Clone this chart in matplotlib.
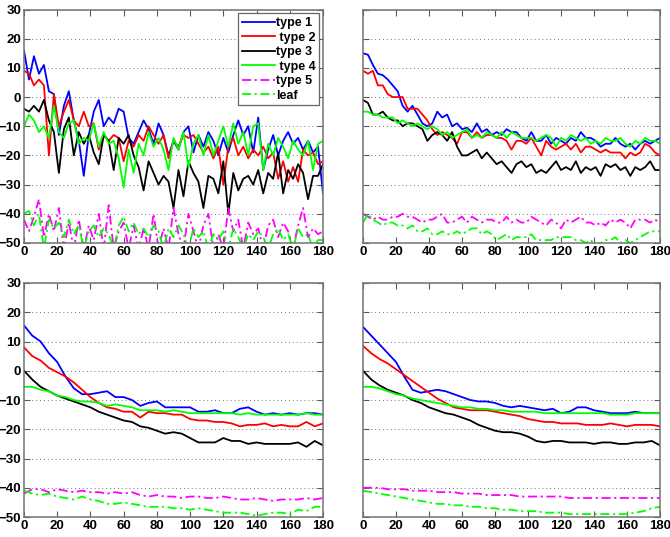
import numpy as np
import matplotlib
matplotlib.use("Agg")
import matplotlib.pyplot as plt

plt.rcParams['font.family'] = ['Liberation Sans', 'DejaVu Sans']
plt.rcParams['font.weight'] = 'bold'

labels = ['type 1', ' type 2', 'type 3', ' type 4', 'type 5', 'leaf']
colors = ['#0000ff', '#ff0000', '#000000', '#00ff00', '#ff00ff', '#00ff00']

# angle grids
x3 = np.arange(0, 181, 3)
x5 = np.arange(0, 181, 5)

# ---- top left (raw, noisy) ----
tl_t1 = [16, 6, 14, 8, 11, 2, 1, -13, -3, 2,
         -8, -15, -27, -13, -5, -1, -10, -7, -9, -4,
         -5, -14, -16, -12, -8, -11, -16, -9, -13, -20,
         -15, -18, -12, -10, -19, -13, -17, -12, -15, -20,
         -14, -19, -13, -8, -13, -10, -19, -7, -25, -18,
         -13, -20, -15, -12, -16, -14, -18, -15, -19, -17,
         -33]
tl_t2 = [9, 8, 4, 6, 4, -20, 1, -10, -5, -1,
         -8, -10, -5, -10, -9, -18, -13, -15, -13, -14,
         -22, -15, -17, -13, -15, -10, -13, -16, -13, -21,
         -15, -17, -13, -14, -13, -16, -19, -17, -21, -17,
         -30, -17, -14, -20, -17, -21, -18, -20, -17, -21,
         -19, -28, -22, -29, -24, -29, -18, -20, -19, -23,
         -22]
tl_t3 = [-4, -5, -3, -5, -1, -8, -12, -26, -11, -7,
         -20, -12, -16, -13, -19, -23, -13, -15, -25, -14,
         -16, -13, -20, -24, -32, -22, -26, -30, -27, -29,
         -38, -25, -34, -22, -26, -29, -38, -27, -28, -33,
         -22, -40, -26, -32, -28, -27, -30, -25, -33, -26,
         -28, -19, -33, -25, -28, -23, -26, -35, -27, -27,
         -23]
tl_t4 = [-10, -6, -8, -12, -10, -14, -3, -12, -14, -9,
         -8, -16, -14, -15, -9, -17, -12, -16, -15, -21,
         -31, -18, -26, -16, -20, -12, -17, -14, -18, -25,
         -14, -18, -12, -24, -16, -13, -20, -13, -20, -15,
         -10, -17, -9, -16, -12, -20, -10, -9, -25, -16,
         -20, -14, -17, -21, -15, -18, -20, -15, -25, -16,
         -15]
tl_t5 = [-42, -46, -41, -35, -48, -40, -46, -38, -52, -43,
         -52, -42, -52, -44, -49, -40, -52, -37, -52, -46,
         -43, -52, -44, -52, -45, -52, -40, -52, -45, -52,
         -38, -47, -52, -40, -46, -52, -44, -40, -52, -47,
         -52, -38, -46, -42, -52, -43, -47, -45, -52, -44,
         -42, -48, -43, -46, -52, -44, -38, -48, -45, -47,
         -46]
tl_leaf = [-40, -39, -44, -40, -52, -42, -45, -43, -48, -42,
           -47, -44, -52, -46, -44, -48, -45, -47, -52, -44,
           -41, -46, -43, -47, -45, -48, -44, -46, -52, -45,
           -48, -44, -47, -52, -45, -48, -46, -52, -47, -49,
           -46, -52, -45, -48, -52, -47, -49, -46, -48, -52,
           -47, -45, -49, -47, -52, -45, -48, -47, -52, -49,
           -49]

# ---- top right ----
tr_t1 = [15, 14.5, 11, 8, 7.5, 6, 4, 2, -3, -5,
         -3, -6, -9, -10, -9, -5, -7, -6, -10, -9,
         -11, -10.5, -12, -9, -12, -11, -13, -12, -13, -11,
         -12, -12, -14, -15, -12, -15, -15, -13, -16, -14,
         -15, -16, -14, -15, -12, -14, -14, -15, -17, -16,
         -16, -14, -16, -17, -16, -18, -16, -15, -16, -15,
         -14]
tr_t2 = [9, 8, 9, 4, 4, 1, 0, 0, 0, -4,
         -4, -4, -6, -8, -11, -13, -12, -13, -14, -16,
         -12, -12, -14, -12, -14, -13, -13, -14, -14, -15,
         -18, -15, -15, -16, -14, -17, -20, -15, -17, -18,
         -17, -16, -18, -16, -19, -17, -17, -18, -19, -18,
         -19, -19, -19, -21, -19, -20, -19, -16, -17, -19,
         -20]
tr_t3 = [-1, -2, -6, -6, -5, -7, -8, -8, -10, -9,
         -9, -10, -11, -15, -13, -12, -13, -15, -12, -17,
         -20, -20, -19, -18, -21, -19, -21, -23, -22, -24,
         -26, -23, -22, -24, -23, -26, -25, -26, -24, -22,
         -25, -24, -25, -22, -26, -24, -25, -24, -27, -23,
         -24, -23, -25, -24, -27, -24, -25, -24, -22, -25,
         -25]
tr_t4 = [-5, -5, -6, -6, -7, -7, -7, -9, -8, -9,
         -10, -9, -10, -11, -10, -11, -13, -12, -14, -13,
         -12, -11, -14, -13, -14, -12, -13, -14, -12, -14,
         -12, -13, -14, -14, -14, -15, -14, -13, -14, -17,
         -14, -15, -13, -14, -15, -14, -16, -15, -16, -14,
         -15, -15, -14, -16, -17, -15, -16, -14, -15, -15,
         -16]
tr_t5 = [-40, -41, -42, -41, -42, -42, -41, -41, -40, -41,
         -41, -42, -43, -42, -42, -41, -40, -43, -43, -42,
         -41, -43, -41, -42, -43, -42, -42, -43, -43, -41,
         -43, -42, -43, -43, -41, -42, -43, -44, -42, -43,
         -45, -42, -43, -42, -41, -43, -43, -44, -43, -44,
         -42, -43, -42, -43, -45, -42, -42, -42, -43, -42,
         -43]
tr_leaf = [-43, -40, -42, -43, -44, -43, -43, -44, -44, -45,
           -44, -46, -46, -45, -47, -47, -46, -47, -47, -46,
           -47, -46, -45, -45, -47, -46, -47, -49, -48, -47,
           -49, -48, -48, -48, -47, -49, -49, -49, -49, -48,
           -48, -48, -48, -49, -49, -50, -49, -51, -50, -49,
           -49, -48, -50, -49, -50, -49, -48, -47, -46, -46,
           -46]

# ---- bottom left ----
bl_t1 = [15.5, 12, 10, 6, 3, -2, -6, -8, -8, -7.5,
         -7, -9, -9, -10, -12, -11, -10.5, -12.5, -12.5, -12.5,
         -12.5, -14, -14, -13.5, -14.5, -14.5, -13, -12.5, -14, -15,
         -14.5, -15, -14.5, -15, -14.5, -14.5, -15]
bl_t2 = [8, 5, 3.5, 1, -0.5, -2, -4, -6.5, -9, -11,
         -12.5, -13, -14, -14, -16, -14, -14.5, -14.5, -15, -15,
         -16.5, -17, -17, -17.5, -17.5, -18, -19, -18.5, -18.5, -18,
         -19, -18.5, -19, -19, -17.5, -19, -18]
bl_t3 = [0, -3, -5.5, -7, -8.5, -9.5, -10.5, -11.5, -12.5, -14,
         -15, -16, -17, -17.5, -19, -19.5, -20.5, -21.5, -21, -21.5,
         -23, -24.5, -24.5, -24.5, -23, -24, -24, -25, -24.5, -25,
         -25, -25, -25, -24.5, -26, -24, -25.5]
bl_t4 = [-5.5, -5.5, -6.5, -7, -8.5, -9, -10, -10.5, -10.5, -11,
         -12, -11.5, -12, -12.5, -13.5, -13.5, -13.5, -14, -13.5, -14,
         -14.5, -14.5, -14.5, -14.5, -14.5, -14.5, -15, -14.5, -15, -15,
         -15, -15, -15, -15, -14.5, -15, -15]
bl_t5 = [-42, -40.5, -40.5, -41.5, -40.5, -41, -41.5, -41, -41.5, -41.5,
         -42, -41.5, -42, -41.5, -42.5, -43, -42.5, -43, -43, -43.5,
         -43, -43, -43.5, -43.5, -43, -43.5, -44, -44, -43.5, -44,
         -44.5, -44, -44, -44, -43.5, -44, -43.5]
bl_leaf = [-41, -42, -42.5, -42, -43, -43.5, -44, -43, -44, -44.5,
           -45.5, -45.5, -45, -45.5, -46, -46.5, -46.5, -46.5, -47, -47,
           -47.5, -47, -47.5, -48, -48.5, -48.5, -48.5, -49, -49.5, -49,
           -48.5, -48.5, -49, -47.5, -48, -46.5, -46.5]

# ---- bottom right (smoothed) ----
br_t1 = [15, 12, 9, 6, 3, -2, -6.5, -7.5, -7, -6.5,
         -7, -8, -9, -10, -10.5, -10.5, -11, -12, -12.5, -12,
         -12.5, -13, -13.5, -13, -14.5, -14, -12.5, -12.5, -13.5, -14,
         -14.5, -14.5, -14.5, -14, -14.5, -14.5, -14.5]
br_t2 = [8.5, 6, 4, 2.5, 0.5, -1.5, -3.5, -5.5, -7.5, -9.5,
         -11, -12.5, -13, -13.5, -13.5, -13.5, -14, -14.5, -15, -15.5,
         -16.5, -17, -17.5, -17.5, -18, -18, -18, -18.5, -18.5, -18.5,
         -18, -18.5, -19, -18.5, -18.5, -18.5, -19]
br_t3 = [0, -3, -5, -6.5, -7.5, -8.5, -10, -11, -12.5, -13.5,
         -14.5, -15, -16, -17, -18.5, -19.5, -20.5, -21, -21, -21.5,
         -22.5, -24, -24.5, -24, -24, -24.5, -24.5, -24.5, -25, -24.5,
         -24.5, -25, -25, -24.5, -24.5, -24, -25.5]
br_t4 = [-5.5, -5.5, -6, -7, -8, -8.5, -9.5, -10, -10.5, -11,
         -11.5, -12, -12.5, -12.5, -13, -13, -13.5, -13.5, -14, -14,
         -14, -14, -14.5, -14.5, -14.5, -14.5, -14.5, -14.5, -14.5, -14.5,
         -15, -15, -15, -14.5, -14.5, -14.5, -14.5]
br_t5 = [-40, -40, -40, -40.5, -40.5, -40.5, -41, -41, -41, -41.5,
         -41.5, -41.5, -42, -42, -42, -42.5, -42.5, -42.5, -42.5, -43,
         -43, -43, -43, -43, -43, -43.5, -43.5, -43.5, -43.5, -43.5,
         -43.5, -43.5, -43.5, -43.5, -43.5, -43.5, -43.5]
br_leaf = [-41, -41.5, -42, -42.5, -43, -43.5, -44, -44.5, -45, -45.5,
           -45.5, -46, -46, -46.5, -46.5, -47, -47, -47.5, -47.5, -48,
           -48, -48, -48.5, -48.5, -48.5, -49, -49, -49, -49, -49,
           -49, -49, -49, -48.5, -48, -47, -46.5]

panels = [
    (x3, [tl_t1, tl_t2, tl_t3, tl_t4, tl_t5, tl_leaf]),
    (x3, [tr_t1, tr_t2, tr_t3, tr_t4, tr_t5, tr_leaf]),
    (x5, [bl_t1, bl_t2, bl_t3, bl_t4, bl_t5, bl_leaf]),
    (x5, [br_t1, br_t2, br_t3, br_t4, br_t5, br_leaf]),
]
rects = [
    [0.0358, 0.5475, 0.4463, 0.4348],
    [0.5418, 0.5475, 0.4433, 0.4348],
    [0.0358, 0.0372, 0.4463, 0.4358],
    [0.5418, 0.0372, 0.4433, 0.4358],
]

fig = plt.figure(figsize=(6.7, 5.37), dpi=100)

for k, ((x, series), rect) in enumerate(zip(panels, rects)):
    ax = fig.add_axes(rect)
    for i, y in enumerate(series):
        if i < 4:
            ls = '-'
        else:
            ls = (0, (5, 2, 1.2, 2))
        ax.plot(x, y, color=colors[i], linestyle=ls, lw=1.3, label=labels[i])
    ax.set_xlim(0, 180)
    ax.set_ylim(-50, 30)
    ax.set_xticks(np.arange(0, 181, 20))
    ax.set_yticks(np.arange(-50, 31, 10))
    ax.yaxis.grid(True, linestyle=(0, (1, 3)), color='0.45', lw=0.7)
    ax.tick_params(direction='in', length=4, top=True, right=True,
                   labelsize=9.5, pad=2, color='0.35')
    for lab in ax.get_xticklabels() + ax.get_yticklabels():
        lab.set_fontweight('bold')
    if k % 2 == 1:
        ax.set_yticklabels([])
    for sp in ax.spines.values():
        sp.set_linewidth(1.1)
        sp.set_color('0.45')
    if k == 0:
        leg = ax.legend(loc='upper right', fontsize=9, frameon=True,
                        fancybox=False, edgecolor='0.4', framealpha=1,
                        handlelength=2.6, handletextpad=0.1,
                        labelspacing=0.2, borderpad=0.3,
                        borderaxespad=0.3)
        leg.get_frame().set_linewidth(0.9)
        for t in leg.get_texts():
            t.set_fontweight('bold')

fig.savefig('out.png', dpi=100)
